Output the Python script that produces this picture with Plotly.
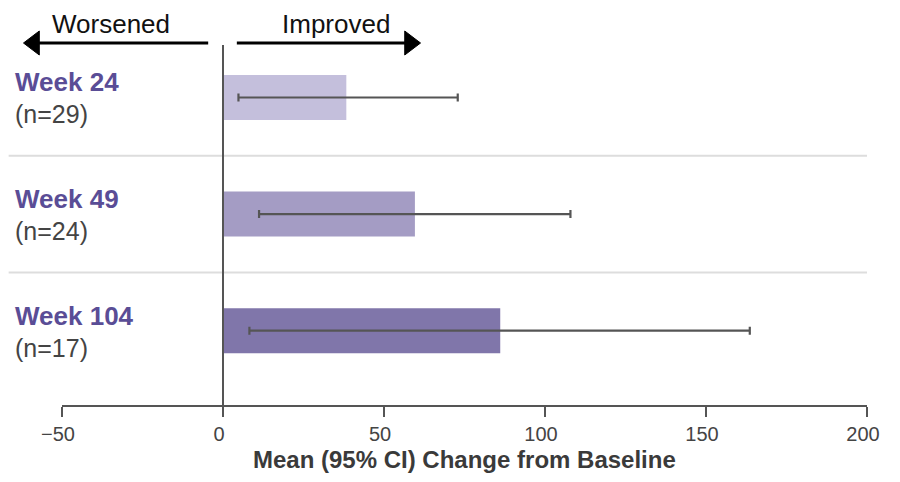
import plotly.graph_objects as go

# ---- data ----
weeks = ["Week 24", "Week 49", "Week 104"]
n_labels = ["(n=29)", "(n=24)", "(n=17)"]
means = [38.3, 59.6, 86.1]
ci_low = [4.8, 11.2, 8.2]
ci_high = [72.9, 107.9, 163.6]
x_ticks = [-50, 0, 50, 100, 150, 200]
bar_colors = ["#c4bfdc", "#a49cc4", "#8076aa"]

# ---- layout geometry (page body has an 8px margin, so the figure is offset) ----
OFF = 8
W, H = 900 - 2 * OFF, 482 - 2 * OFF
ML, MT = 62 - OFF, 40 - OFF
MR = W - (877 - OFF)
MB = H - (405 - OFF)
PW, PH = W - ML - MR, H - MT - MB


def px(xs):
    """screen x pixel -> paper coordinate"""
    return (xs - OFF - ML) / PW


def py(ys):
    """screen y pixel -> paper coordinate"""
    return (H - MB - (ys - OFF)) / PH


ypos = list(range(len(weeks)))
err_plus = [h - m for h, m in zip(ci_high, means)]
err_minus = [m - l for m, l in zip(means, ci_low)]

fig = go.Figure()
fig.add_trace(go.Bar(
    x=means, y=ypos, orientation="h", width=0.386,
    marker=dict(color=bar_colors, line=dict(width=0)),
    error_x=dict(type="data", symmetric=False, array=err_plus, arrayminus=err_minus,
                 color="#555555", thickness=2.2, width=4),
    hoverinfo="skip", showlegend=False,
))

shapes = []
# separators between rows
for s in [0.5, 1.5]:
    shapes.append(dict(type="line", xref="paper", yref="y", x0=px(8), x1=1, y0=s, y1=s,
                       line=dict(color="#dddddd", width=2), layer="below"))
# zero line
shapes.append(dict(type="line", xref="x", yref="paper", x0=0, x1=0, y0=0, y1=py(45),
                   line=dict(color="#555555", width=2)))
# arrows
ay = py(43)
shapes.append(dict(type="line", xref="paper", yref="paper", x0=px(210), x1=px(37), y0=ay, y1=ay,
                   line=dict(color="black", width=3)))
shapes.append(dict(type="path", xref="paper", yref="paper",
                   path=f"M {px(23)},{ay} L {px(39)},{py(31)} L {px(39)},{py(55)} Z",
                   fillcolor="black", line=dict(color="black", width=1)))
shapes.append(dict(type="line", xref="paper", yref="paper", x0=px(239), x1=px(411), y0=ay, y1=ay,
                   line=dict(color="black", width=3)))
shapes.append(dict(type="path", xref="paper", yref="paper",
                   path=f"M {px(425)},{ay} L {px(409)},{py(31)} L {px(409)},{py(55)} Z",
                   fillcolor="black", line=dict(color="black", width=1)))

annotations = []
font_fam = "Liberation Sans, Arial, sans-serif"
for i, (wk, nl) in enumerate(zip(weeks, n_labels)):
    annotations.append(dict(text=f"<b>{wk}</b>", xref="paper", yref="y", x=px(12), y=i,
                            xanchor="left", yanchor="middle", yshift=15, showarrow=False,
                            font=dict(family=font_fam, size=26, color="#5a4d96")))
    annotations.append(dict(text=nl, xref="paper", yref="y", x=px(12), y=i,
                            xanchor="left", yanchor="middle", yshift=-17, showarrow=False,
                            font=dict(family=font_fam, size=25, color="#444444")))
annotations.append(dict(text="Worsened", xref="paper", yref="paper", x=px(112), y=py(24),
                        xanchor="center", yanchor="middle", showarrow=False,
                        font=dict(family=font_fam, size=26, color="#111111")))
annotations.append(dict(text="Improved", xref="paper", yref="paper", x=px(339), y=py(24),
                        xanchor="center", yanchor="middle", showarrow=False,
                        font=dict(family=font_fam, size=26, color="#111111")))
annotations.append(dict(text="<b>Mean (95% CI) Change from Baseline</b>", xref="paper", yref="paper",
                        x=px(469), y=py(474), xanchor="center", yanchor="bottom", showarrow=False,
                        borderpad=0,
                        font=dict(family=font_fam, size=24, color="#3a3a3a")))

fig.update_layout(
    width=W, height=H,
    margin=dict(l=ML, r=MR, t=MT, b=MB),
    paper_bgcolor="white", plot_bgcolor="white",
    shapes=shapes, annotations=annotations,
    font=dict(family=font_fam),
    xaxis=dict(range=[-50, 200], tickvals=x_ticks, showgrid=False, zeroline=False,
               showline=True, linecolor="#555555", linewidth=2,
               ticks="outside", ticklen=10, tickwidth=2, tickcolor="#555555",
               ticklabelshift=-4,
               tickfont=dict(family=font_fam, size=20, color="#444444")),
    yaxis=dict(range=[2.637, -0.493], showticklabels=False, showgrid=False,
               zeroline=False, showline=False, ticks=""),
)

fig.write_html("out.html")
